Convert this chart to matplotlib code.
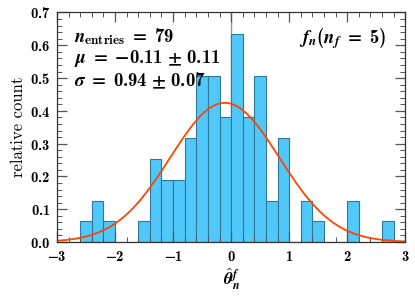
import numpy as np
import matplotlib
matplotlib.use("Agg")
import matplotlib.pyplot as plt
from matplotlib.ticker import MultipleLocator, FuncFormatter

plt.rcParams['mathtext.fontset'] = 'custom'
plt.rcParams['mathtext.rm'] = 'cmb10'
plt.rcParams['mathtext.bf'] = 'cmb10'
plt.rcParams['mathtext.it'] = 'STIXGeneral:italic:bold'
plt.rcParams['mathtext.sf'] = 'STIXGeneral:bold'
plt.rcParams['mathtext.fallback'] = 'cm'
plt.rcParams['axes.unicode_minus'] = False

# Data: histogram bins (edges) and counts
bin_edges = np.round(np.arange(-3.0, 3.0001, 0.2), 2)
counts = [0, 0, 1, 2, 1, 0, 0, 1, 4, 3, 3, 5, 8, 8, 6,
          10, 6, 8, 2, 5, 0, 2, 1, 0, 0, 2, 0, 0, 1, 0]
n_entries = 79
mu, mu_err = -0.11, 0.11
sigma, sigma_err = 0.94, 0.07

counts = np.array(counts, dtype=float)
widths = np.diff(bin_edges)
rel = counts / (n_entries * widths)

fig = plt.figure(figsize=(4.15, 3.01), dpi=100)
ax = fig.add_axes([0.1373, 0.196, 0.8394, 0.7625])

ax.axvline(0, color='#999999', lw=1.0, zorder=0)
ax.bar(bin_edges[:-1], rel, width=widths, align='edge',
       color='#50c8fa', edgecolor='#2f7898', linewidth=0.8, zorder=1)

xs = np.linspace(-3, 3, 400)
ys = np.exp(-0.5 * ((xs - mu) / sigma) ** 2) / (np.sqrt(2 * np.pi) * sigma)
ax.plot(xs, ys, color='#ff4500', lw=1.3, zorder=2)

ax.set_xlim(-3, 3)
ax.set_ylim(0, 0.7)
ax.xaxis.set_major_locator(MultipleLocator(1))
ax.xaxis.set_minor_locator(MultipleLocator(0.2))
ax.yaxis.set_major_locator(MultipleLocator(0.1))
ax.yaxis.set_minor_locator(MultipleLocator(0.02))

def xfmt(v, p):
    n = int(round(v))
    if n < 0:
        return r'$\mathsf{-}\mathbf{%d}$' % (-n)
    return r'$\mathbf{%d}$' % n

def yfmt(v, p):
    return r'$\mathbf{%.1f}$' % v

ax.xaxis.set_major_formatter(FuncFormatter(xfmt))
ax.yaxis.set_major_formatter(FuncFormatter(yfmt))

ax.tick_params(which='both', direction='in', top=True, right=True,
               color='#555555', labelsize=10.5)
ax.tick_params(which='major', length=7, width=0.9, pad=5)
ax.tick_params(which='minor', length=3.5, width=0.7)
for s in ax.spines.values():
    s.set_color('#333333')
    s.set_linewidth(0.9)

ax.set_ylabel('relative count', fontfamily='cmr10', fontsize=12, labelpad=3)
ax.set_xlabel(r'$\hat{\theta}_n^f$', fontsize=12.5, labelpad=2)

ax.text(0.05, 0.94,
        r'$n_{\mathrm{entries}}\ \mathsf{=}\ %d$' % n_entries + '\n'
        + r'$\mu\ \mathsf{=}\ \mathsf{-}\mathrm{%.2f}\ \mathsf{\pm}\ %.2f$' % (abs(mu), mu_err) + '\n'
        + r'$\sigma\ \mathsf{=}\ %.2f\ \mathsf{\pm}\ %.2f$' % (sigma, sigma_err),
        transform=ax.transAxes, ha='left', va='top', fontsize=13.5,
        linespacing=1.1)
ax.text(0.945, 0.94, r'$f_n(n_f\ \mathsf{=}\ 5)$', transform=ax.transAxes,
        ha='right', va='top', fontsize=13.5)

fig.savefig('out.png', dpi=100)
